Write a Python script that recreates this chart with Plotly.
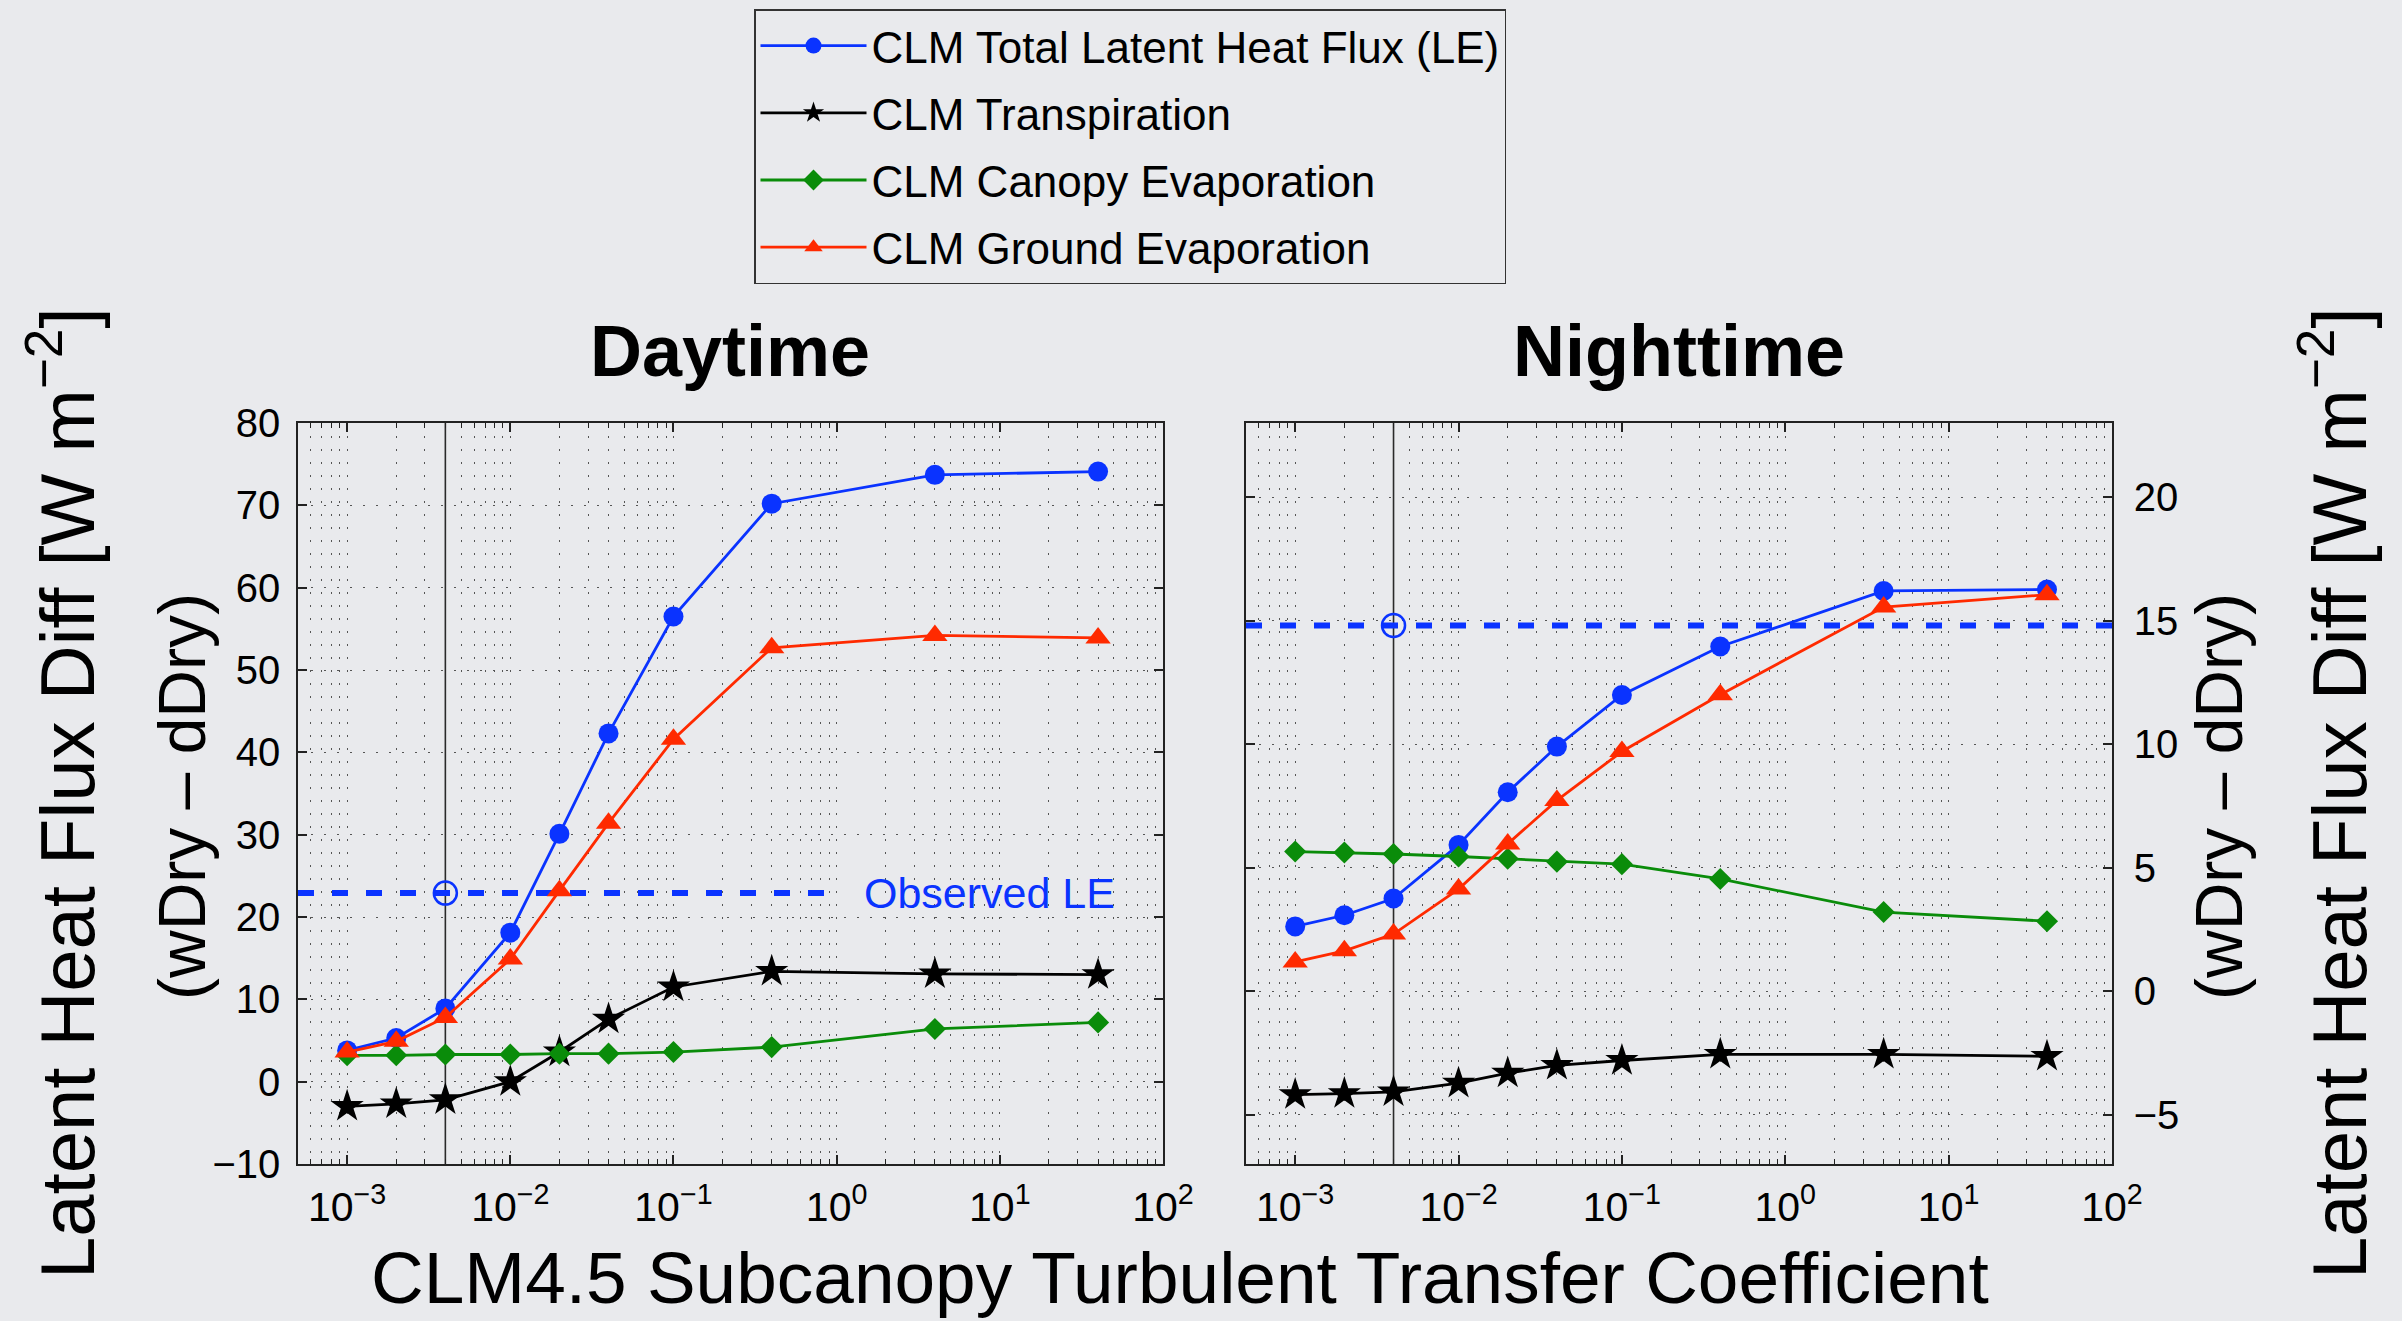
import math
import plotly.graph_objects as go

# Subcanopy turbulent transfer coefficient values tested
coef = [0.001, 0.002, 0.004, 0.01, 0.02, 0.04, 0.1, 0.4, 4, 40]
selected_coef = 0.004

# Daytime latent heat flux differences (wDry - dDry) [W m-2]
day_total = [3.8, 5.3, 8.9, 18.1, 30.1, 42.3, 56.5, 70.2, 73.7, 74.1]
day_trans = [-3.0, -2.7, -2.2, 0.0, 3.6, 7.6, 11.5, 13.4, 13.1, 13.0]
day_canopy = [3.2, 3.2, 3.3, 3.3, 3.4, 3.4, 3.6, 4.2, 6.4, 7.2]
day_ground = [3.6, 4.9, 7.8, 14.9, 23.2, 31.4, 41.6, 52.7, 54.2, 53.9]
day_observed = 22.9
day_observed_end = 1.0

# Nighttime latent heat flux differences (wDry - dDry) [W m-2]
night_total = [2.62, 3.07, 3.75, 5.92, 8.05, 9.9, 11.99, 13.95, 16.2, 16.26]
night_trans = [-4.19, -4.15, -4.08, -3.73, -3.32, -3.01, -2.81, -2.56, -2.56, -2.64]
night_canopy = [5.65, 5.61, 5.55, 5.45, 5.36, 5.24, 5.14, 4.54, 3.2, 2.83]
night_ground = [1.18, 1.63, 2.31, 4.13, 5.96, 7.72, 9.7, 12.0, 15.55, 16.05]
night_observed = 14.8
night_observed_end = 100.0

# Axis limits and ticks
x_min, x_max = 5e-4, 100.0
day_ylim = [-10, 80]
night_ylim = [-7, 23]
x_ticks = [1e-3, 1e-2, 1e-1, 1e0, 1e1, 1e2]
x_ticktext = ["10<sup>−3</sup>", "10<sup>−2</sup>", "10<sup>−1</sup>",
              "10<sup>0</sup>", "10<sup>1</sup>", "10<sup>2</sup>"]
day_yticks = list(range(-10, 81, 10))
night_yticks = list(range(-5, 21, 5))

series_names = ["CLM Total Latent Heat Flux (LE)", "CLM Transpiration",
                "CLM Canopy Evaporation", "CLM Ground Evaporation"]

W, H = 2402, 1321
BG = "#E9EAED"
FONT = "Liberation Sans, Arial, Helvetica, sans-serif"
BLUE = "#0A33FF"
RED = "#FF2A00"
GREEN = "#0A8C0A"
BLACK = "#000000"
AXIS = "#222222"
GRID = "#555555"

minor_x = [m * 10.0 ** e for e in range(-4, 2) for m in range(2, 10)
           if x_min <= m * 10.0 ** e <= x_max]

styles = [
    dict(color=BLUE, symbol="circle", size=20),
    dict(color=BLACK, symbol="star", size=25),
    dict(color=GREEN, symbol="diamond", size=17),
    dict(color=RED, symbol="triangle-up", size=22),
]

fig = go.Figure()


def add_panel(xa, ya, ylim, values, observed, observed_end, show_legend):
    # selected coefficient marker line
    fig.add_trace(go.Scatter(
        x=[selected_coef, selected_coef], y=ylim, mode="lines",
        line=dict(color="#2a2a2a", width=1.6),
        xaxis=xa, yaxis=ya, showlegend=False, hoverinfo="skip"))
    # observed latent heat flux difference
    fig.add_trace(go.Scatter(
        x=[x_min, observed_end], y=[observed, observed], mode="lines",
        line=dict(color=BLUE, width=6, dash="16px,18px"),
        xaxis=xa, yaxis=ya, showlegend=False, hoverinfo="skip"))
    fig.add_trace(go.Scatter(
        x=[selected_coef], y=[observed], mode="markers",
        marker=dict(symbol="circle-open", size=23, color=BLUE,
                    line=dict(width=2.5, color=BLUE)),
        xaxis=xa, yaxis=ya, showlegend=False, hoverinfo="skip"))
    for name, vals, st in zip(series_names, values, styles):
        fig.add_trace(go.Scatter(
            x=coef, y=vals, mode="lines+markers", name=name,
            legendgroup=name, showlegend=show_legend,
            line=dict(color=st["color"], width=2.8),
            marker=dict(symbol=st["symbol"], size=st["size"], color=st["color"],
                        line=dict(width=0)),
            xaxis=xa, yaxis=ya))


add_panel("x", "y", day_ylim, [day_total, day_trans, day_canopy, day_ground],
          day_observed, day_observed_end, True)
add_panel("x2", "y2", night_ylim, [night_total, night_trans, night_canopy, night_ground],
          night_observed, night_observed_end, False)

grid_style = dict(showgrid=True, gridcolor=GRID, gridwidth=1.2, griddash="2px,11px")
common_x = dict(
    type="log", range=[math.log10(x_min), math.log10(x_max)],
    tickmode="array", tickvals=x_ticks, ticktext=x_ticktext,
    ticks="inside", ticklen=9, tickwidth=1.5, tickcolor=AXIS,
    showline=True, linecolor=AXIS, linewidth=1.5, mirror="ticks",
    zeroline=False, automargin=False,
    tickfont=dict(size=41, color="black", family=FONT),
    ticklabelstandoff=6,
    minor=dict(tickmode="array", tickvals=minor_x, ticks="inside", ticklen=5,
               tickwidth=1.2, tickcolor=AXIS, **grid_style),
    **grid_style)
common_y = dict(
    ticks="inside", ticklen=9, tickwidth=1.5, tickcolor=AXIS,
    showline=True, linecolor=AXIS, linewidth=1.5, mirror="ticks",
    zeroline=False, automargin=False,
    tickfont=dict(size=40, color="black", family=FONT),
    tickmode="array", **grid_style)

y_dom = [1 - 1164 / H, 1 - 423 / H]
fig.update_layout(
    width=W, height=H,
    margin=dict(l=0, r=0, t=0, b=0, pad=0, autoexpand=False),
    paper_bgcolor=BG, plot_bgcolor=BG,
    font=dict(family=FONT, color="black"),
    xaxis=dict(domain=[298 / W, 1163 / W], anchor="y", **common_x),
    xaxis2=dict(domain=[1246 / W, 2112 / W], anchor="y2", **common_x),
    yaxis=dict(domain=y_dom, anchor="x", range=day_ylim, tickvals=day_yticks,
               ticklabelstandoff=8, **common_y),
    yaxis2=dict(domain=y_dom, anchor="x2", side="right", range=night_ylim,
                tickvals=night_yticks, ticklabelstandoff=12, **common_y),
    legend=dict(
        x=754 / W, y=1 - 9 / H, xanchor="left", yanchor="top",
        font=dict(size=44, family=FONT, color="black"),
        bgcolor=BG, bordercolor="#333333", borderwidth=1.5,
        itemwidth=106, tracegroupgap=7, traceorder="grouped"),
    showlegend=True,
)

annotations = [
    dict(text="<b>Daytime</b>", x=730 / W, y=1 - 351 / H, xref="paper", yref="paper",
         xanchor="center", yanchor="middle", showarrow=False, font=dict(size=72)),
    dict(text="<b>Nighttime</b>", x=1679 / W, y=1 - 351 / H, xref="paper", yref="paper",
         xanchor="center", yanchor="middle", showarrow=False, font=dict(size=72)),
    dict(text="CLM4.5 Subcanopy Turbulent Transfer Coefficient", x=1180 / W,
         y=1 - 1277 / H, xref="paper", yref="paper", xanchor="center",
         yanchor="middle", showarrow=False, font=dict(size=73)),
    dict(text="Latent Heat Flux Diff [W m<sup>−2</sup>]", x=62 / W, y=1 - 793 / H,
         xref="paper", yref="paper", xanchor="center", yanchor="middle",
         textangle=-90, showarrow=False, font=dict(size=76)),
    dict(text="(wDry – dDry)", x=182 / W, y=1 - 797 / H,
         xref="paper", yref="paper", xanchor="center", yanchor="middle",
         textangle=-90, showarrow=False, font=dict(size=66)),
    dict(text="(wDry – dDry)", x=2219 / W, y=1 - 797 / H,
         xref="paper", yref="paper", xanchor="center", yanchor="middle",
         textangle=-90, showarrow=False, font=dict(size=66)),
    dict(text="Latent Heat Flux Diff [W m<sup>−2</sup>]", x=2334 / W, y=1 - 793 / H,
         xref="paper", yref="paper", xanchor="center", yanchor="middle",
         textangle=-90, showarrow=False, font=dict(size=76)),
    dict(text="Observed LE", x=862 / W, y=day_observed, xref="paper", yref="y",
         xanchor="left", yanchor="middle", showarrow=False,
         font=dict(size=43, color=BLUE)),
]
fig.update_layout(annotations=annotations)

fig.write_html("out.html")
